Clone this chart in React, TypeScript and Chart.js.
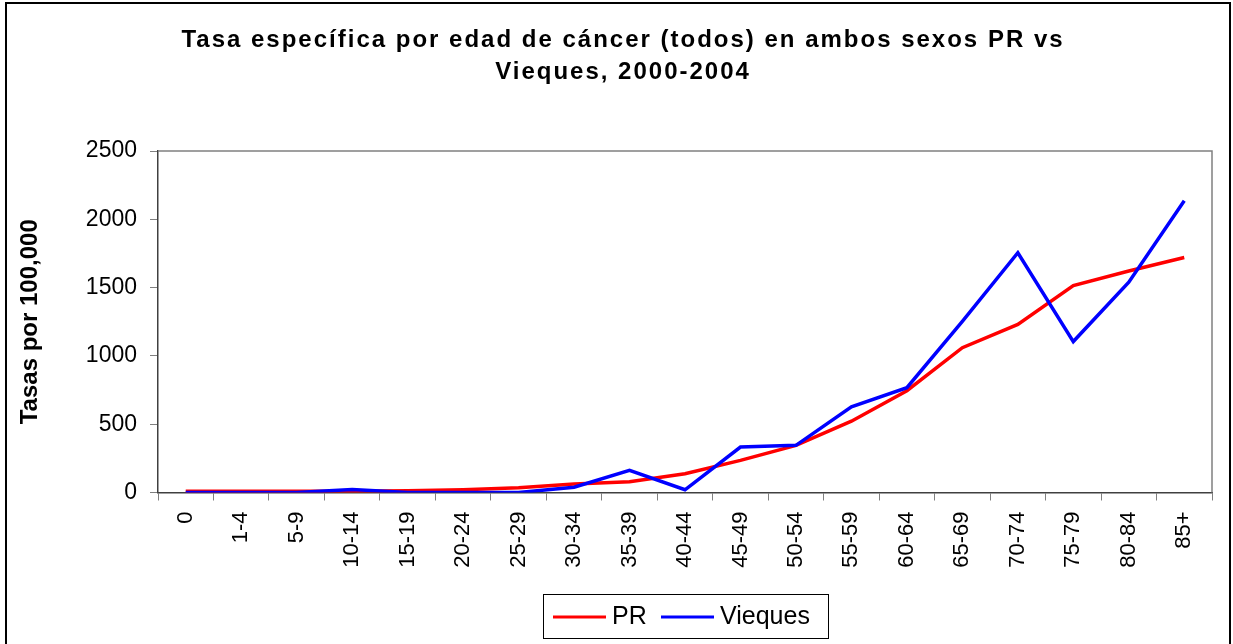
import React, { useEffect, useRef } from 'react';
import { Chart, registerables } from 'chart.js';

Chart.register(...registerables);

const ageGroups = ['0', '1-4', '5-9', '10-14', '15-19', '20-24', '25-29', '30-34', '35-39', '40-44', '45-49', '50-54', '55-59', '60-64', '65-69', '70-74', '75-79', '80-84', '85+'];
const prRates = [10, 10, 9, 9, 12, 20, 35, 62, 78, 137, 235, 345, 522, 745, 1060, 1230, 1515, 1622, 1720];
const viequesRates = [0, 0, 0, 22, 0, 0, 0, 39, 162, 20, 333, 345, 627, 767, 1252, 1755, 1105, 1539, 2135];
const yMin = 0;
const yMax = 2500;
const yStep = 500;
const titleLines = ['Tasa específica por edad de cáncer (todos) en ambos sexos PR vs', 'Vieques, 2000-2004'];
const yAxisTitle = 'Tasas por 100,000';
const seriesNames = ['PR', 'Vieques'];
const seriesColors = ['#ff0000', '#0000ff'];

const FONT = '"Liberation Sans", Arial, sans-serif';
const W = 1233;
const H = 644;

const framePlugin = {
  id: 'frame',
  afterDraw(chart: any) {
    const ctx = chart.ctx;
    const area = chart.chartArea;
    ctx.save();
    // outer border
    ctx.strokeStyle = '#000';
    ctx.lineWidth = 2;
    ctx.strokeRect(6, 3, 1224, 660);
    // plot box top and right
    ctx.strokeStyle = '#808080';
    ctx.lineWidth = 1.5;
    ctx.beginPath();
    ctx.moveTo(area.left, area.top);
    ctx.lineTo(area.right, area.top);
    ctx.lineTo(area.right, area.bottom);
    ctx.stroke();
    // title
    ctx.fillStyle = '#000';
    ctx.font = 'bold 24px ' + FONT;
    ctx.textAlign = 'center';
    ctx.textBaseline = 'alphabetic';
    (ctx as any).letterSpacing = '2px';
    ctx.fillText(titleLines[0], 623, 47);
    ctx.fillText(titleLines[1], 623, 79);
    (ctx as any).letterSpacing = '0px';
    // legend
    ctx.strokeStyle = '#000';
    ctx.lineWidth = 1;
    ctx.strokeRect(543.5, 594.5, 285, 44);
    ctx.font = '25px ' + FONT;
    ctx.textAlign = 'left';
    ctx.textBaseline = 'middle';
    const items = chart.data.datasets.map((d: any, i: number) => ({ label: d.label, color: d.borderColor, i }));
    const lineStarts = [553, 661];
    items.forEach((it: any, k: number) => {
      const x0 = lineStarts[k];
      ctx.strokeStyle = it.color;
      ctx.lineWidth = 3;
      ctx.beginPath();
      ctx.moveTo(x0, 617);
      ctx.lineTo(x0 + 53, 617);
      ctx.stroke();
      ctx.fillStyle = '#000';
      ctx.fillText(it.label, x0 + 59, 617);
    });
    ctx.restore();
  },
};

export default function App() {
  const canvasRef = useRef<HTMLCanvasElement | null>(null);

  useEffect(() => {
    const canvas = canvasRef.current;
    if (!canvas) return;
    const chart = new Chart(canvas, {
      type: 'line',
      data: {
        labels: ageGroups,
        datasets: [
          {
            label: seriesNames[0],
            data: prRates,
            borderColor: seriesColors[0],
            backgroundColor: seriesColors[0],
            borderWidth: 3.5,
            pointRadius: 0,
            tension: 0,
            order: 1,
          },
          {
            label: seriesNames[1],
            data: viequesRates,
            borderColor: seriesColors[1],
            backgroundColor: seriesColors[1],
            borderWidth: 3.5,
            pointRadius: 0,
            tension: 0,
            order: 0,
          },
        ],
      },
      options: {
        responsive: false,
        animation: false,
        devicePixelRatio: 1,
        layout: { padding: { top: 151, left: 0, right: 21, bottom: 0 } },
        plugins: {
          legend: { display: false },
          title: { display: false },
          tooltip: { enabled: false },
        },
        scales: {
          x: {
            type: 'category',
            offset: true,
            grid: { display: true, offset: true, drawOnChartArea: false, drawTicks: true, tickLength: 8, color: '#808080' },
            border: { display: true, color: '#404040', width: 1.5 },
            ticks: {
              autoSkip: false,
              minRotation: 90,
              maxRotation: 90,
              padding: 11,
              color: '#000',
              font: { family: FONT, size: 22 },
            },
            afterFit: (scale: any) => {
              scale.height = H - 492.5;
            },
          },
          y: {
            min: yMin,
            max: yMax,
            grid: { display: true, drawOnChartArea: false, drawTicks: true, tickLength: 8, color: '#808080' },
            border: { display: true, color: '#404040', width: 1.5 },
            ticks: {
              stepSize: yStep,
              padding: 13,
              color: '#000',
              font: { family: FONT, size: 23 },
              callback: (v: any) => String(v),
            },
            title: {
              display: true,
              text: yAxisTitle,
              color: '#000',
              font: { family: FONT, size: 24, weight: 'bold' },
              padding: { top: 16, bottom: 0 },
            },
            afterFit: (scale: any) => {
              scale.width = 158;
            },
          },
        },
      },
      plugins: [framePlugin],
    });
    return () => chart.destroy();
  }, []);

  return (
    <div style={{ position: 'fixed', left: 0, top: 0, width: W, height: H, background: '#fff' }}>
      <canvas ref={canvasRef} width={W} height={H} style={{ display: 'block', width: W, height: H }} />
    </div>
  );
}
